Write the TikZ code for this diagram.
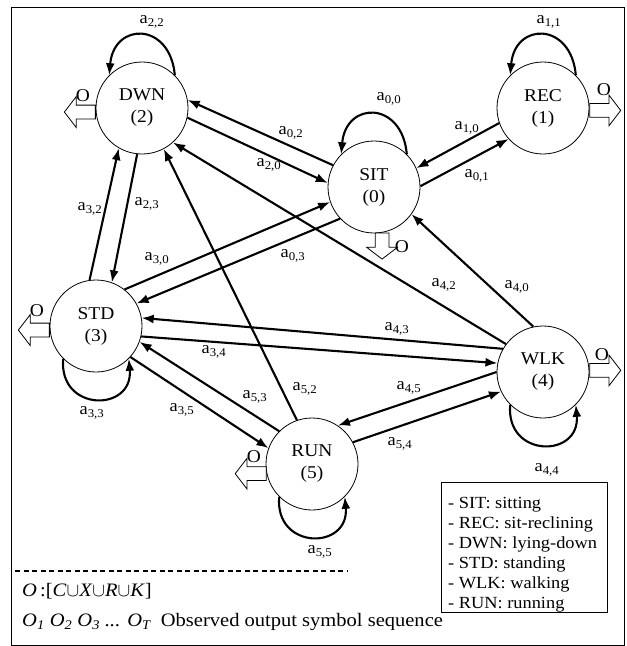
\RequirePackage{fix-cm}
\documentclass[tikz,border=0pt]{standalone}
\usepackage{fontspec}
\setmainfont{Liberation Serif}[FakeStretch=1.08]
\usepackage{tikz}
\usetikzlibrary{shapes.arrows,arrows.meta}
\newcommand{\tr}[2]{a\textsubscript{#1,#2}}
\newcommand{\obs}[1]{\textit{O\textsubscript{#1}}}

\begin{document}
\begin{tikzpicture}[x=1pt,y=-1pt]
\tikzstyle{state}=[circle, draw=black, line width=0.8pt, minimum size=92pt, inner sep=0pt, align=center, font=\fontsize{18}{22}\selectfont]
\tikzstyle{outarr}=[single arrow, draw=black, fill=white, line width=0.8pt, inner xsep=0pt, inner ysep=6.5pt, minimum height=31pt, single arrow head extend=8.5pt, single arrow tip angle=105, anchor=tail]
\tikzstyle{olbl}=[inner sep=0pt, font=\fontsize{18}{20}\selectfont]
\tikzstyle{lbl}=[inner sep=0pt, font=\fontsize{17}{20}\selectfont]
\tikzstyle{connect}=[-{Latex[length=12pt,width=9pt]}, line width=2.1pt]
\tikzstyle{frame}=[draw=black, line width=1pt]
\useasboundingbox (0,0) rectangle (627,646);
\draw[frame] (11,7) rectangle (624,645);

% states
\node[state] (SIT) at (374,187) {SIT\\(0)};
\node[state] (REC) at (543,108) {REC\\(1)};
\node[state] (DWN) at (142,108) {DWN\\(2)};
\node[state] (STD) at (96,326) {STD\\(3)};
\node[state] (WLK) at (543,372) {WLK\\(4)};
\node[state] (RUN) at (312,464) {RUN\\(5)};

% output symbols
\node[outarr, rotate=180] (oaDWN) at (DWN.185) {};
\node[outarr] (oaREC) at (REC.-3) {};
\node[outarr, rotate=-90, minimum height=26pt] (oaSIT) at (SIT.-80) {};
\node[outarr, rotate=180] (oaSTD) at (STD.185) {};
\node[outarr] (oaWLK) at (WLK.2) {};
\node[outarr, rotate=180] (oaRUN) at (RUN.192) {};
\node[olbl] (oDWN) at (83,96) {O};
\node[olbl] (oREC) at (604,90) {O};
\node[olbl] (oSIT) at (402,247) {O};
\node[olbl] (oSTD) at (37,311) {O};
\node[olbl] (oWLK) at (602,355) {O};
\node[olbl] (oRUN) at (254,457) {O};

% self transitions
\path[connect]
	(DWN.45) edge[out=95,in=85,looseness=2.1] (DWN.135)
	(SIT.45) edge[out=95,in=85,looseness=2.1] (SIT.135)
	(REC.45) edge[out=95,in=85,looseness=2.1] (REC.135)
	(STD.-135) edge[out=-95,in=-85,looseness=2.1] (STD.-45)
	(WLK.-135) edge[out=-95,in=-85,looseness=2.1] (WLK.-45)
	(RUN.-135) edge[out=-95,in=-85,looseness=2.1] (RUN.-45);

% transitions
\path[connect]
	(SIT.152) edge (DWN.10)
	(DWN.-12) edge (SIT.175)
	(REC.-161) edge (SIT.24)
	(SIT.1) edge (REC.-138)
	(STD.98) edge (DWN.-120)
	(DWN.-96) edge (STD.70)
	(RUN.109) edge (DWN.-62)
	(WLK.143) edge (DWN.-48)
	(STD.52) edge (SIT.-161)
	(SIT.-137) edge (STD.29)
	(WLK.102) edge (SIT.-36)
	(WLK.150) edge (STD.10)
	(STD.-13) edge (WLK.169)
	(RUN.135) edge (STD.-20)
	(STD.-42) edge (RUN.160)
	(WLK.180) edge (RUN.56)
	(RUN.28) edge (WLK.-155);

\node[lbl] (l22) at (152,22) {\tr{2}{2}};
\node[lbl] (l11) at (549,22) {\tr{1}{1}};
\node[lbl] (l00) at (389,99) {\tr{0}{0}};
\node[lbl] (l33) at (92,413) {\tr{3}{3}};
\node[lbl] (l44) at (547,470) {\tr{4}{4}};
\node[lbl] (l55) at (320,552) {\tr{5}{5}};
\node[lbl] (l02) at (291,133) {\tr{0}{2}};
\node[lbl] (l20) at (269,165) {\tr{2}{0}};
\node[lbl] (l10) at (467,128) {\tr{1}{0}};
\node[lbl] (l01) at (477,176) {\tr{0}{1}};
\node[lbl] (l32) at (90,209) {\tr{3}{2}};
\node[lbl] (l23) at (147,204) {\tr{2}{3}};
\node[lbl] (l30) at (157,259) {\tr{3}{0}};
\node[lbl] (l03) at (293,256) {\tr{0}{3}};
\node[lbl] (l52) at (305,389) {\tr{5}{2}};
\node[lbl] (l53) at (255,397) {\tr{5}{3}};
\node[lbl] (l35) at (182,410) {\tr{3}{5}};
\node[lbl] (l34) at (214,352) {\tr{3}{4}};
\node[lbl] (l42) at (444,285) {\tr{4}{2}};
\node[lbl] (l40) at (517,287) {\tr{4}{0}};
\node[lbl] (l43) at (397,329) {\tr{4}{3}};
\node[lbl] (l45) at (409,388) {\tr{4}{5}};
\node[lbl] (l54) at (400,444) {\tr{5}{4}};

% legend
\node[draw=black, line width=0.8pt, minimum width=166pt, minimum height=130pt, inner sep=0pt] (key) at (524,547) {};
\node[anchor=north west, align=left, inner sep=0pt, font=\fontsize{17}{20}\selectfont] (keytxt) at (448,497) {- SIT: sitting\\- REC: sit-reclining\\- DWN: lying-down\\- STD: standing\\- WLK: walking\\- RUN: running};

% observations
\draw[line width=1.3pt, dash pattern=on 5pt off 3.5pt] (15,571) -- (347,571);
\node[anchor=west, inner sep=0pt, font=\fontsize{19}{23}\selectfont] (alpha) at (22,591) {\textit{O}\,:[\textit{C}$\cup$\textit{X}$\cup$\textit{R}$\cup$\textit{K}]};
\node[anchor=west, inner sep=0pt, font=\fontsize{19}{23}\selectfont] (seq) at (22,622) {\obs{1} \obs{2} \obs{3} \textit{...} \obs{T}\ \ Observed output symbol sequence};
\end{tikzpicture}
\end{document}
